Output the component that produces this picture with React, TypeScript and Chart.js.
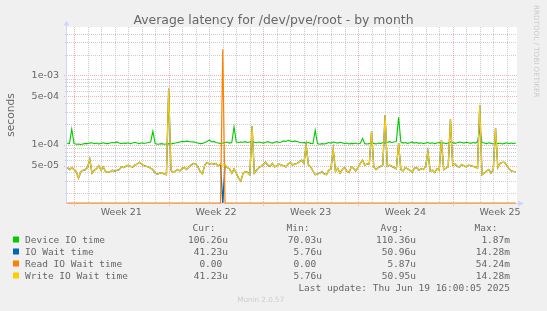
import { useEffect, useRef } from "react";
import { Chart, registerables } from "chart.js";

Chart.register(...registerables);

// ---------------- data ----------------
const TITLE = "Average latency for /dev/pve/root - by month";
const Y_TITLE = "seconds";
const WATERMARK = "RRDTOOL / TOBI OETIKER";
const FOOTER = "Munin 2.0.57";
const LAST_UPDATE = "Last update: Thu Jun 19 16:00:05 2025";

// x axis: days since Mon 19 May 2025 00:00
const WEEK_LABELS = ["Week 21", "Week 22", "Week 23", "Week 24", "Week 25"];
const WEEK_CENTERS = [3.5, 10.5, 17.5, 24.5, 31.5];
const WEEK_STARTS = [0, 7, 14, 21, 28];
const X_MIN = -0.5176;
const X_MAX = 32.754;

// y axis (seconds, log)
const Y_TICKS = [5e-5, 1e-4, 5e-4, 1e-3];
const Y_TICK_LABELS = ["5e-05", "1e-04", "5e-04", "1e-03"];
const Y_MIN = 1.45e-5;
const Y_MAX = 5e-3;

// samples: one every 4 hours starting 18 May 12:00 (day -0.5); values in microseconds
const START_DAY = -0.5;
const STEP_DAYS = 1 / 6;

const deviceIO = [
  105, 104, 169, 104, 102, 103, 101, 103, 105, 104,
  106, 107, 104, 106, 103, 105, 107, 105, 104, 106,
  108, 107, 110, 106, 104, 106, 105, 107, 104, 106,
  109, 106, 104, 107, 105, 106, 108, 110, 158, 104,
  102, 103, 104, 102, 103, 104, 103, 105, 106, 108,
  110, 112, 111, 113, 112, 110, 111, 108, 106, 104,
  105, 108, 112, 118, 110, 112, 108, 106, 104, 106,
  108, 110, 106, 108, 182, 110, 108, 110, 109, 111,
  108, 110, 112, 109, 107, 110, 108, 106, 109, 111,
  108, 106, 109, 111, 108, 110, 114, 112, 116, 113,
  111, 114, 112, 109, 107, 108, 106, 108, 105, 104,
  163, 104, 102, 104, 103, 105, 108, 106, 110, 108,
  106, 109, 107, 104, 106, 103, 105, 104, 106, 103,
  105, 124, 104, 103, 104, 107, 105, 103, 106, 104,
  108, 106, 109, 111, 108, 110, 112, 249, 110, 106,
  108, 105, 107, 110, 106, 108, 105, 107, 104, 106,
  108, 105, 107, 104, 106, 108, 105, 107, 104, 106,
  110, 108, 105, 107, 110, 108, 106, 109, 107, 105,
  108, 106, 110, 164, 108, 106, 104, 107, 105, 103,
  106, 104, 106, 103, 105, 107, 104, 106, 104, 106,
];

const ioWait = [
  47, 44, 47, 44, 41, 33, 41, 43, 44, 47,
  62, 39, 43, 45, 50, 43, 48, 41, 40, 41,
  43, 42, 43, 44, 48, 47, 49, 51, 49, 48,
  51, 53, 56, 53, 50, 49, 48, 46, 44, 39,
  38, 39, 39, 38, 37, 650, 43, 40, 42, 44,
  42, 46, 47, 44, 48, 51, 54, 53, 48, 41,
  38, 51, 56, 53, 54, 53, 54, 49, 53, 0,
  51, 47, 45, 39, 45, 39, 33, 30, 39, 41,
  40, 37, 186, 39, 43, 47, 49, 52, 56, 51,
  49, 54, 48, 50, 53, 51, 50, 48, 53, 56,
  51, 53, 54, 57, 60, 54, 99, 51, 48, 42,
  37, 38, 39, 41, 38, 37, 43, 45, 87, 41,
  46, 39, 44, 47, 42, 40, 48, 46, 42, 47,
  54, 60, 51, 53, 53, 155, 48, 44, 47, 49,
  51, 269, 49, 51, 49, 47, 45, 105, 44, 42,
  47, 45, 43, 40, 46, 47, 43, 45, 44, 49,
  80, 42, 43, 40, 45, 43, 117, 44, 46, 48,
  233, 51, 53, 49, 48, 52, 50, 48, 51, 50,
  49, 48, 46, 376, 37, 39, 42, 44, 39, 44,
  173, 47, 54, 56, 56, 50, 45, 42, 41, 41,
];

const readWait = [
  0, 0, 0, 0, 0, 0, 0, 0, 0, 0,
  0, 0, 0, 0, 0, 0, 0, 0, 0, 0,
  0, 0, 0, 0, 0, 0, 0, 0, 0, 0,
  0, 0, 0, 0, 0, 0, 0, 0, 0, 0,
  0, 0, 0, 0, 0, 0, 0, 0, 0, 0,
  0, 0, 0, 0, 0, 0, 0, 0, 0, 0,
  0, 0, 0, 0, 0, 0, 0, 0, 0, 2390,
  0, 0, 0, 0, 0, 0, 0, 0, 0, 0,
  0, 0, 0, 0, 0, 0, 0, 0, 0, 0,
  0, 0, 0, 0, 0, 0, 0, 0, 0, 0,
  0, 0, 0, 0, 0, 0, 0, 0, 0, 0,
  0, 0, 0, 0, 0, 0, 0, 0, 0, 0,
  0, 0, 0, 0, 0, 0, 0, 0, 0, 0,
  0, 0, 0, 0, 0, 0, 0, 0, 0, 0,
  0, 0, 0, 0, 0, 0, 0, 0, 0, 0,
  0, 0, 0, 0, 0, 0, 0, 0, 0, 0,
  0, 0, 0, 0, 0, 0, 0, 0, 0, 0,
  0, 0, 0, 0, 0, 0, 0, 0, 0, 0,
  0, 0, 0, 0, 0, 0, 0, 0, 0, 0,
  0, 0, 0, 0, 0, 0, 0, 0, 0, 0,
];

const writeWait = [
  47, 44, 47, 44, 41, 33, 41, 43, 44, 47,
  62, 39, 43, 45, 50, 43, 48, 41, 40, 41,
  43, 42, 43, 44, 48, 47, 49, 51, 49, 48,
  51, 53, 56, 53, 50, 49, 48, 46, 44, 39,
  38, 39, 39, 38, 37, 650, 43, 40, 42, 44,
  42, 46, 47, 44, 48, 51, 54, 53, 48, 41,
  38, 51, 56, 53, 54, 53, 54, 49, 53, 51,
  51, 47, 45, 39, 45, 39, 33, 30, 39, 41,
  40, 37, 186, 39, 43, 47, 49, 52, 56, 51,
  49, 54, 48, 50, 53, 51, 50, 48, 53, 56,
  51, 53, 54, 57, 60, 54, 99, 51, 48, 42,
  37, 38, 39, 41, 38, 37, 43, 45, 87, 41,
  46, 39, 44, 47, 42, 40, 48, 46, 42, 47,
  54, 60, 51, 53, 53, 155, 48, 44, 47, 49,
  51, 269, 49, 51, 49, 47, 45, 105, 44, 42,
  47, 45, 43, 40, 46, 47, 43, 45, 44, 49,
  80, 42, 43, 40, 45, 43, 117, 44, 46, 48,
  233, 51, 53, 49, 48, 52, 50, 48, 51, 50,
  49, 48, 46, 376, 37, 39, 42, 44, 39, 44,
  173, 47, 54, 56, 56, 50, 45, 42, 41, 41,
];

const SERIES_NAMES = ["Device IO time", "IO Wait time", "Read IO Wait time", "Write IO Wait time"];
const SERIES_COLORS = ["#00CC00", "#0066B3", "#FF8000", "#FFCC00"];
const LEGEND_HEADERS = ["Cur:", "Min:", "Avg:", "Max:"];
const CUR = ["106.26u", " 41.23u", "  0.00 ", " 41.23u"];
const MIN = [" 70.03u", "  5.76u", "  0.00 ", "  5.76u"];
const AVG = ["110.36u", " 50.96u", "  5.87u", " 50.95u"];
const MAX = ["  1.87m", " 14.28m", " 54.24m", " 14.28m"];

// ---------------- styling ----------------
const FONT_COLOR = "#666666";
const AXIS_COLOR = "#CFD6F8";
const GRID_COLOR = "rgba(200,200,200,0.9)";
const MGRID_COLOR = "rgba(240,140,140,0.7)";
const SANS = '"DejaVu Sans"';
const MONO = '"DejaVu Sans Mono"';
const LINE_WIDTHS = [1.1, 1.3, 1.2, 1.2];

function toPoints(vals: number[]) {
  return vals.map((v, i) => ({
    x: START_DAY + i * STEP_DAYS,
    y: v > 0 ? v * 1e-6 : Y_MIN,
  }));
}

const framePlugin = {
  id: "muninFrame",
  beforeDraw(chart: any) {
    const { ctx, chartArea: a } = chart;
    const xs = chart.scales.x;
    const ys = chart.scales.y;
    ctx.save();
    ctx.fillStyle = "#F0F0F0";
    ctx.fillRect(0, 0, chart.width, chart.height);
    ctx.fillStyle = "#FFFFFF";
    ctx.fillRect(a.left, a.top, a.right - a.left, a.bottom - a.top);

    ctx.lineWidth = 1;
    ctx.setLineDash([1, 1]);
    // horizontal grid
    for (let e = -5; e <= -3; e++) {
      for (let k = 1; k <= 9; k++) {
        const v = k * Math.pow(10, e);
        if (v < Y_MIN || v > Y_MAX * 0.999) continue;
        const major = Y_TICKS.some((t) => Math.abs(t - v) / v < 1e-6);
        const py = Math.round(ys.getPixelForValue(v)) + 0.5;
        ctx.strokeStyle = major ? MGRID_COLOR : GRID_COLOR;
        ctx.beginPath();
        ctx.moveTo(a.left - (major ? 3 : 2), py);
        ctx.lineTo(a.right, py);
        ctx.stroke();
      }
    }
    // vertical grid (days / weeks)
    for (let d = Math.ceil(X_MIN); d <= Math.floor(X_MAX); d++) {
      const major = WEEK_STARTS.includes(d);
      const px = Math.round(xs.getPixelForValue(d)) + 0.5;
      ctx.strokeStyle = major ? MGRID_COLOR : GRID_COLOR;
      ctx.beginPath();
      ctx.moveTo(px, a.top);
      ctx.lineTo(px, a.bottom + (major ? 3 : 2));
      ctx.stroke();
    }
    ctx.setLineDash([]);

    // axes + arrows
    ctx.fillStyle = AXIS_COLOR;
    ctx.fillRect(a.left - 1, a.top - 2, 1, a.bottom - a.top + 3);
    ctx.fillRect(a.left - 1, a.bottom, a.right - a.left + 2, 1);
    ctx.beginPath();
    ctx.moveTo(a.left - 3.5, a.top - 1.5);
    ctx.lineTo(a.left + 2.5, a.top - 1.5);
    ctx.lineTo(a.left - 0.5, a.top - 6.5);
    ctx.closePath();
    ctx.fill();
    ctx.beginPath();
    ctx.moveTo(a.right + 1, a.bottom - 2.5);
    ctx.lineTo(a.right + 1, a.bottom + 3.5);
    ctx.lineTo(a.right + 7, a.bottom + 0.5);
    ctx.closePath();
    ctx.fill();
    ctx.restore();
  },
  afterDraw(chart: any) {
    const { ctx } = chart;
    ctx.save();
    // title
    ctx.fillStyle = FONT_COLOR;
    ctx.font = `12.4px ${SANS}`;
    ctx.textAlign = "center";
    ctx.textBaseline = "alphabetic";
    ctx.fillText(TITLE, 273.5, 23.5);

    // watermark
    ctx.save();
    ctx.translate(534, 5);
    ctx.rotate(Math.PI / 2);
    ctx.font = `7.2px ${SANS}`;
    ctx.fillStyle = "#CCCCCC";
    ctx.textAlign = "left";
    ctx.fillText(WATERMARK, 0, 0);
    ctx.restore();

    // legend table
    ctx.font = `9.5px ${MONO}`;
    ctx.fillStyle = FONT_COLOR;
    const headX = [192.6, 286.6, 380.6, 474.6];
    const valX = [228, 322, 416, 510];
    ctx.textAlign = "left";
    LEGEND_HEADERS.forEach((h, i) => ctx.fillText(h, headX[i], 231));
    const cols = [CUR, MIN, AVG, MAX];
    SERIES_NAMES.forEach((name, r) => {
      const by = 243 + r * 12;
      ctx.fillStyle = SERIES_COLORS[r];
      ctx.fillRect(13, by - 6.5, 6, 6);
      ctx.fillStyle = FONT_COLOR;
      ctx.textAlign = "left";
      ctx.fillText(name, 25, by);
      ctx.textAlign = "right";
      cols.forEach((c, ci) => ctx.fillText(c[r], valX[ci], by));
    });
    ctx.textAlign = "right";
    ctx.fillText(LAST_UPDATE, 510, 290.5);

    ctx.font = `7.2px ${SANS}`;
    ctx.fillStyle = "#CCCCCC";
    ctx.textAlign = "center";
    ctx.fillText(FOOTER, 260.7, 302);
    ctx.restore();
  },
};

export default function App() {
  const ref = useRef<HTMLCanvasElement>(null);
  useEffect(() => {
    const canvas = ref.current;
    if (!canvas) return;
    const series = [deviceIO, ioWait, readWait, writeWait];
    const orders = [3, 2, 1, 0];
    const chart = new Chart(canvas, {
      type: "line",
      data: {
        datasets: series.map((vals, i) => ({
          label: SERIES_NAMES[i],
          data: toPoints(vals),
          borderColor: SERIES_COLORS[i],
          backgroundColor: SERIES_COLORS[i],
          borderWidth: LINE_WIDTHS[i],
          pointRadius: 0,
          tension: 0,
          fill: false,
          order: orders[i],
          clip: i === 2 ? false : undefined,
        })) as any,
      },
      options: {
        responsive: false,
        devicePixelRatio: 1,
        animation: false,
        events: [],
        layout: { padding: { top: 27, right: 30, left: 0, bottom: 0 } },
        plugins: {
          legend: { display: false },
          title: { display: false },
          tooltip: { enabled: false },
        },
        scales: {
          x: {
            type: "linear",
            min: X_MIN,
            max: X_MAX,
            afterBuildTicks: (s: any) => {
              s.ticks = WEEK_CENTERS.map((v) => ({ value: v }));
            },
            afterFit: (s: any) => {
              s.height = 108;
            },
            grid: { display: false, drawTicks: false },
            border: { display: false },
            ticks: {
              autoSkip: false,
              maxRotation: 0,
              padding: 4,
              color: FONT_COLOR,
              font: { family: "DejaVu Sans", size: 9.5 },
              callback: (v: any) => WEEK_LABELS[WEEK_CENTERS.indexOf(Number(v))] ?? "",
            },
          },
          y: {
            type: "logarithmic",
            min: Y_MIN,
            max: Y_MAX,
            afterBuildTicks: (s: any) => {
              s.ticks = Y_TICKS.map((v) => ({ value: v }));
            },
            afterFit: (s: any) => {
              s.width = 67;
            },
            grid: { display: false, drawTicks: false },
            border: { display: false },
            ticks: {
              autoSkip: false,
              padding: 8,
              color: FONT_COLOR,
              font: { family: "DejaVu Sans", size: 9.5 },
              callback: (v: any) => {
                const idx = Y_TICKS.findIndex((t) => Math.abs(t - Number(v)) / t < 1e-6);
                return idx >= 0 ? Y_TICK_LABELS[idx] : "";
              },
            },
            title: {
              display: true,
              text: Y_TITLE,
              color: FONT_COLOR,
              font: { family: "DejaVu Sans", size: 10.7 },
              padding: { top: 4.5, bottom: 0 },
            },
          },
        },
      } as any,
      plugins: [framePlugin],
    });
    return () => chart.destroy();
  }, []);
  return (
    <div style={{ position: "fixed", left: 0, top: 0, width: 547, height: 311, background: "#F0F0F0" }}>
      <canvas ref={ref} width={547} height={311} style={{ display: "block", width: 547, height: 311 }} />
    </div>
  );
}
